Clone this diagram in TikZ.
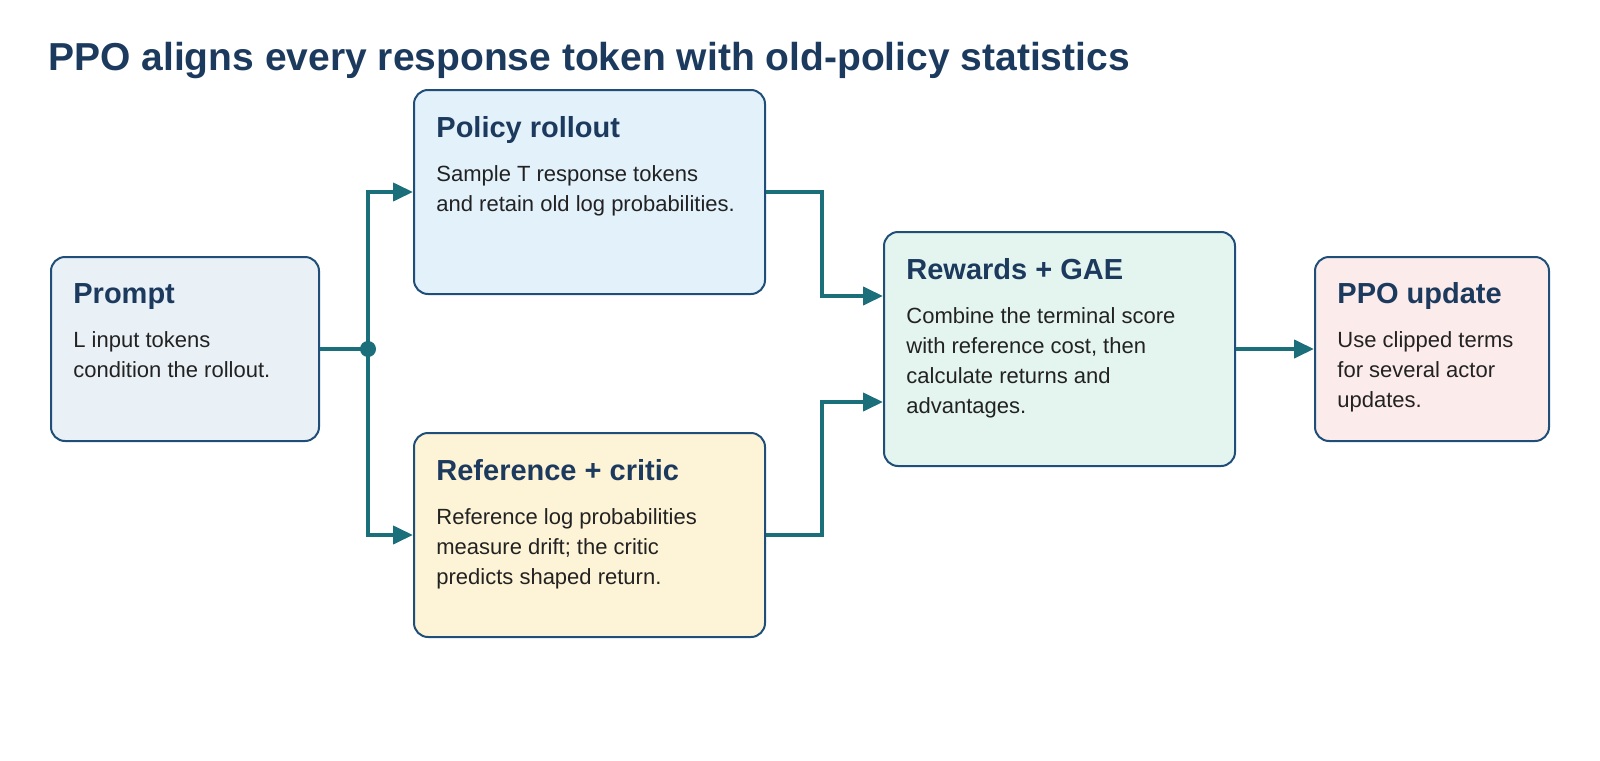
\documentclass[tikz,border=0pt]{standalone}
\usepackage{fontspec}
\setmainfont{Liberation Sans}
\usetikzlibrary{arrows.meta}
\definecolor{ink}{HTML}{1C3A5E}
\definecolor{edge}{HTML}{1F4E79}
\definecolor{teal}{HTML}{1B6F7A}
\definecolor{body}{HTML}{222222}
\definecolor{fA}{HTML}{E9F1F7}
\definecolor{fB}{HTML}{E3F1FB}
\definecolor{fC}{HTML}{FDF3D6}
\definecolor{fD}{HTML}{E4F4EE}
\definecolor{fE}{HTML}{FCEBEB}
\begin{document}
\begin{tikzpicture}[x=0.5pt,y=-0.5pt,
  box/.style={draw=edge,line width=1pt,rounded corners=7pt,anchor=north west,inner sep=0pt},
  ttl/.style={anchor=base west,inner sep=0pt,text=ink,font=\fontsize{14.5}{17}\selectfont\bfseries},
  txt/.style={anchor=north west,inner sep=0pt,text=body,align=left,font=\fontsize{11}{15}\selectfont},
  con/.style={draw=teal,line width=2pt},
  arr/.style={con,-{Triangle[length=10pt,width=9pt]}}]
\node[anchor=base west,inner sep=0pt,text=ink,font=\fontsize{19.5}{22}\selectfont\bfseries] (title) at (48,70) {PPO aligns every response token with old-policy statistics};

\node[box,fill=fA,minimum width=134pt,minimum height=92pt] (prompt) at (50,256) {};
\node[box,fill=fB,minimum width=175.5pt,minimum height=102pt] (policy) at (413,89) {};
\node[box,fill=fC,minimum width=175.5pt,minimum height=102pt] (ref) at (413,432) {};
\node[box,fill=fD,minimum width=175.5pt,minimum height=117pt] (rew) at (883,231) {};
\node[box,fill=fE,minimum width=117pt,minimum height=92pt] (ppo) at (1314,256) {};

\node[ttl] (t1) at (73,303) {Prompt};
\node[txt] (b1) at (73,331) {L input tokens\\condition the rollout.};
\node[ttl] (t2) at (436,137) {Policy rollout};
\node[txt] (b2) at (436,165) {Sample T response tokens\\and retain old log probabilities.};
\node[ttl] (t3) at (436,480) {Reference + critic};
\node[txt] (b3) at (436,508) {Reference log probabilities\\measure drift; the critic\\predicts shaped return.};
\node[ttl] (t4) at (906,279) {Rewards + GAE};
\node[txt] (b4) at (906,307) {Combine the terminal score\\with reference cost, then\\calculate returns and\\advantages.};
\node[ttl] (t5) at (1337,303) {PPO update};
\node[txt] (b5) at (1337,331) {Use clipped terms\\for several actor\\updates.};

\coordinate (jx) at (368,348);
\coordinate (jn) at (prompt.east -| jx);
\draw[con] (prompt.east) -- (jn);
\fill[teal] (jn) circle (4pt);
\draw[arr] (jn) |- (policy.west);
\draw[arr] (jn) |- (ref.west);
\draw[arr] (policy.east) -- ++(56,0) |- ([yshift=26.5pt]rew.west);
\draw[arr] (ref.east) -- ++(56,0) |- ([yshift=-26.5pt]rew.west);
\draw[arr] (rew.east) -- (ppo.west);
\pgfresetboundingbox
\useasboundingbox (0,0) rectangle (1600,760);
\end{tikzpicture}
\end{document}
